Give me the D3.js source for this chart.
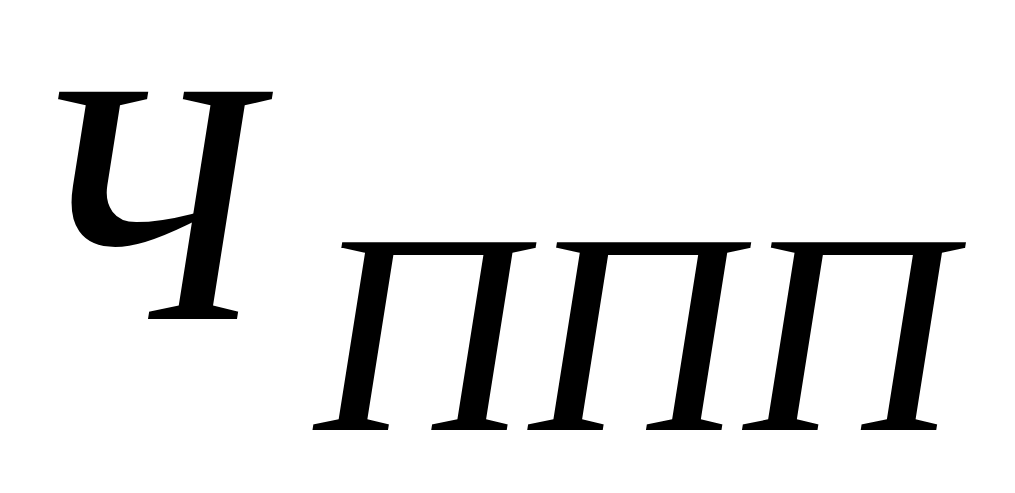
<!DOCTYPE html>
<html lang="ru">
<head>
  <meta charset="UTF-8">
  <title>ч ппп</title>
  <script src="https://d3js.org/d3.v7.min.js"></script>
  <style>
    body { margin: 0; background: #fff; }
    svg { display: block; }
  </style>
</head>
<body>
  <script>
    // formula pieces: main symbol and its subscript
    const baseText = ["ч"];
    const subText = ["ппп"];

    const width = 1015, height = 493;
    const slant = -9;
    // a white outline painted over the glyph makes the strokes a little lighter
    const thin = 4;

    const svg = d3.select("body").append("svg")
      .attr("width", width)
      .attr("height", height);

    svg.append("rect").attr("width", width).attr("height", height).attr("fill", "#fff");

    function letters(cls, data, transform, size) {
      svg.selectAll("." + cls)
        .data(data)
        .enter().append("text")
        .attr("class", cls)
        .attr("transform", transform)
        .style("font-family", "'Liberation Serif', serif")
        .style("font-size", size + "px")
        .attr("fill", "#000")
        .attr("stroke", "#fff")
        .attr("stroke-width", thin)
        .attr("stroke-linejoin", "miter")
        .text(d => d);
    }

    // main letter
    letters("base", baseText, `translate(14,321) skewX(${slant}) scale(0.93,1)`, 504);

    // subscript
    letters("sub", subText, `translate(303,432) skewX(${slant}) scale(0.96,1)`, 418);
  </script>
</body>
</html>
